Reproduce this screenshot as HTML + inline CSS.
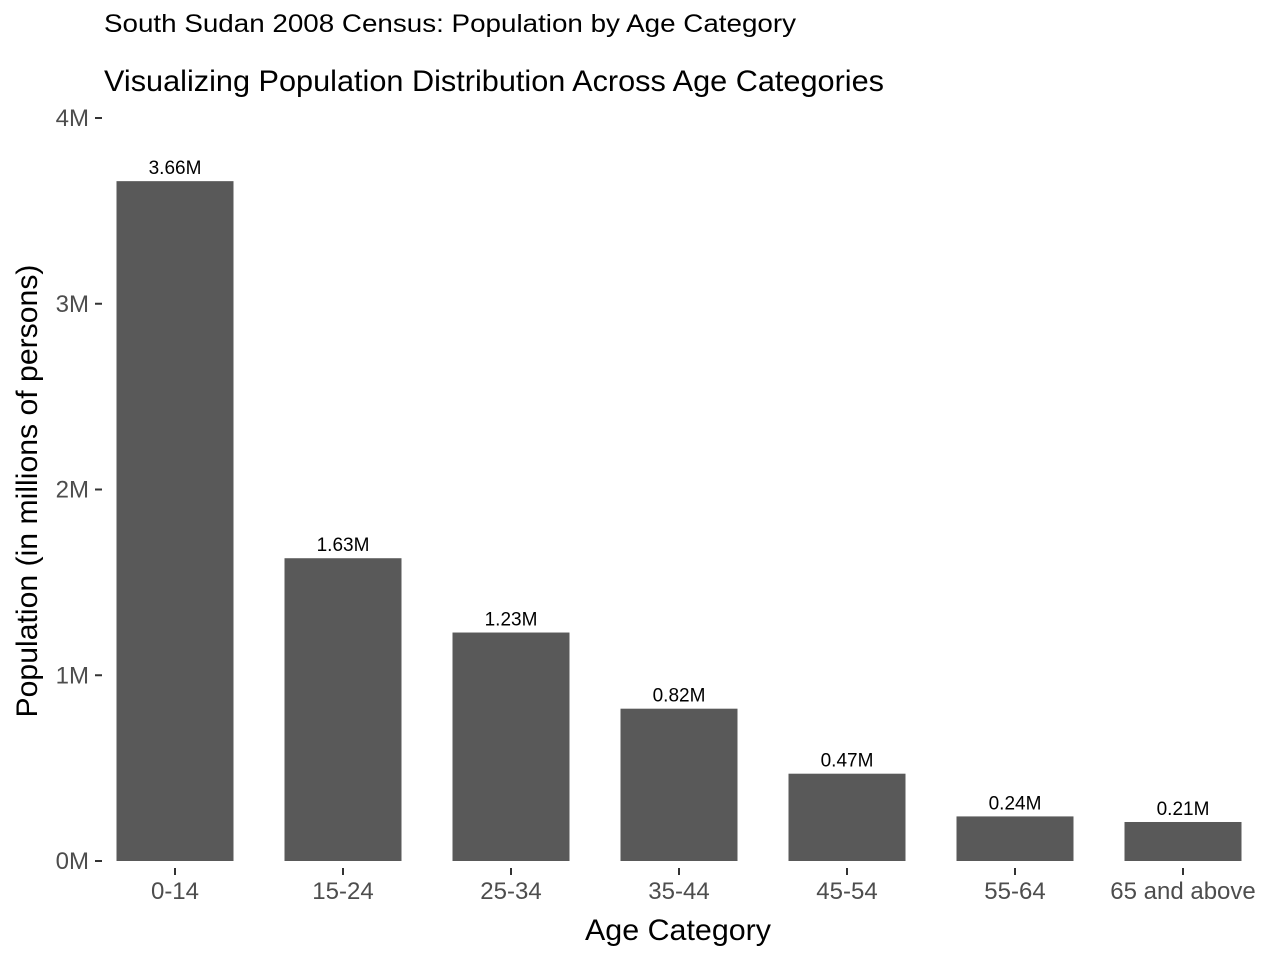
<!DOCTYPE html>
<html><head><meta charset="utf-8"><style>
body{margin:0;background:#fff;font-family:"Liberation Sans",Arial,sans-serif}
</style></head><body>
<svg id="chart" width="1280" height="960" xmlns="http://www.w3.org/2000/svg">
<text x="104" y="32" font-size="25" textLength="692" lengthAdjust="spacingAndGlyphs" fill="#000">South Sudan 2008 Census: Population by Age Category</text>
<text x="104" y="91" font-size="30" textLength="780" lengthAdjust="spacingAndGlyphs" fill="#000">Visualizing Population Distribution Across Age Categories</text>
<text transform="translate(37,491) rotate(-90)" text-anchor="middle" font-size="30" textLength="453" lengthAdjust="spacingAndGlyphs" fill="#000">Population (in millions of persons)</text>
<text x="678" y="940" text-anchor="middle" font-size="30" textLength="186" lengthAdjust="spacingAndGlyphs" fill="#000">Age Category</text>
<g id="marks"></g>
</svg>
<script>
const categories=["0-14","15-24","25-34","35-44","45-54","55-64","65 and above"];
const values=[3.66,1.63,1.23,0.82,0.47,0.24,0.21];
const valueLabels=["3.66M","1.63M","1.23M","0.82M","0.47M","0.24M","0.21M"];
const yTicks=[0,1,2,3,4];
const yTickLabels=["0M","1M","2M","3M","4M"];
const NS="http://www.w3.org/2000/svg";
const g=document.getElementById('marks');
const y=v=>861-v*185.75;
const x=i=>175+i*168;
const bw=117;
function mk(tag,attrs,txt){const e=document.createElementNS(NS,tag);for(const k in attrs)e.setAttribute(k,attrs[k]);if(txt!==undefined)e.textContent=txt;g.appendChild(e);return e;}
yTicks.forEach((t,i)=>{
  const l=mk('line',{x1:95,x2:102,y1:y(t),y2:y(t),stroke:'#333','stroke-width':2});
  
  
  const tx=mk('text',{x:89,y:y(t)+8,'text-anchor':'end','font-size':24,fill:'#4d4d4d'},yTickLabels[i]);
  
  
});
categories.forEach((c,i)=>{
  const r=mk('rect',{x:x(i)-bw/2,y:y(values[i]),width:bw,height:y(0)-y(values[i]),fill:'#595959'});
  
  
  const lb=mk('text',{x:x(i),y:y(values[i])-7,'text-anchor':'middle','font-size':19,fill:'#000'},valueLabels[i]);
  
  
  const tm=mk('line',{x1:x(i),x2:x(i),y1:868,y2:875,stroke:'#333','stroke-width':2});
  
  
  const tl=mk('text',{x:x(i),y:899,'text-anchor':'middle','font-size':24,fill:'#4d4d4d'},c);
  
  
});
</script>
</body></html>
